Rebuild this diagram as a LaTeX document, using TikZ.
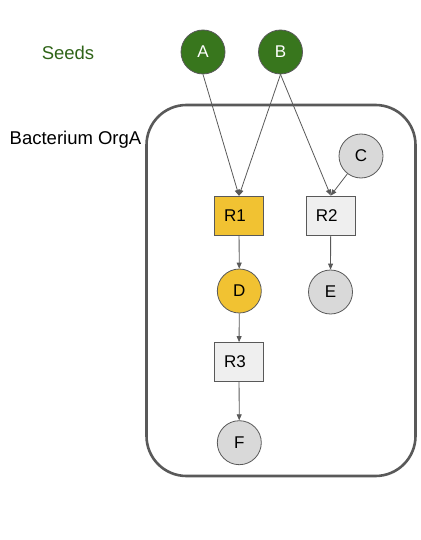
\documentclass[tikz,border=0pt]{standalone}
\usepackage{fontspec}
\setmainfont{Liberation Sans}
\usetikzlibrary{arrows.meta}
\definecolor{edgegray}{HTML}{595959}
\definecolor{seedgreen}{HTML}{38761D}
\definecolor{labelgreen}{HTML}{2F6418}
\definecolor{gold}{HTML}{F1C232}
\definecolor{lightgray}{HTML}{D9D9D9}
\definecolor{boxgray}{HTML}{EFEFEF}
\tikzset{
  metab/.style={circle, draw=edgegray, line width=0.8pt, minimum size=44pt, inner sep=0pt, font=\fontsize{17}{17}\selectfont},
  seed/.style={metab, fill=seedgreen, text=white},
  gmet/.style={metab, fill=lightgray},
  ymet/.style={metab, fill=gold},
  rxn/.style={rectangle, draw=edgegray, line width=0.8pt, minimum width=49pt, minimum height=39pt, inner sep=0pt, font=\fontsize{17}{17}\selectfont, execute at begin node={\hspace*{-8pt}}},
  conn/.style={draw=edgegray, line width=0.8pt, -{Triangle[length=6pt,width=5pt]}},
  lbl/.style={font=\fontsize{18.5}{18.5}\selectfont}
}
\begin{document}
\begin{tikzpicture}[x=1pt,y=-1pt]
\useasboundingbox (0,0) rectangle (420,540);
\node[draw=edgegray, line width=2.6pt, rounded corners=40pt, minimum width=269pt, minimum height=371pt, inner sep=0pt] (org) at (281,290.5) {};
\node[lbl, text=labelgreen] (seeds) at (68,53) {Seeds};
\node[lbl] (orglbl) at (75.5,140) {Bacterium OrgA};
\node[seed] (A) at (203,52) {A};
\node[seed] (B) at (280.5,52) {B};
\node[gmet] (C) at (361,156) {C};
\node[rxn, fill=gold] (R1) at (239,215.7) {R1};
\node[rxn, fill=boxgray] (R2) at (330.7,215.5) {R2};
\node[ymet] (D) at (239.3,291) {D};
\node[gmet] (E) at (330.5,292) {E};
\node[rxn, fill=boxgray] (R3) at (239,362) {R3};
\node[gmet] (F) at (239.3,442.7) {F};
\draw[conn] (A.south) -- (R1.north);
\draw[conn] (B.south) -- (R1.north);
\draw[conn] (B.south) -- (R2.north);
\draw[conn] (C) -- (R2.north);
\draw[conn] (R1) -- (D);
\draw[conn] (R2) -- (E);
\draw[conn] (D) -- (R3);
\draw[conn] (R3) -- (F);
\end{tikzpicture}
\end{document}
